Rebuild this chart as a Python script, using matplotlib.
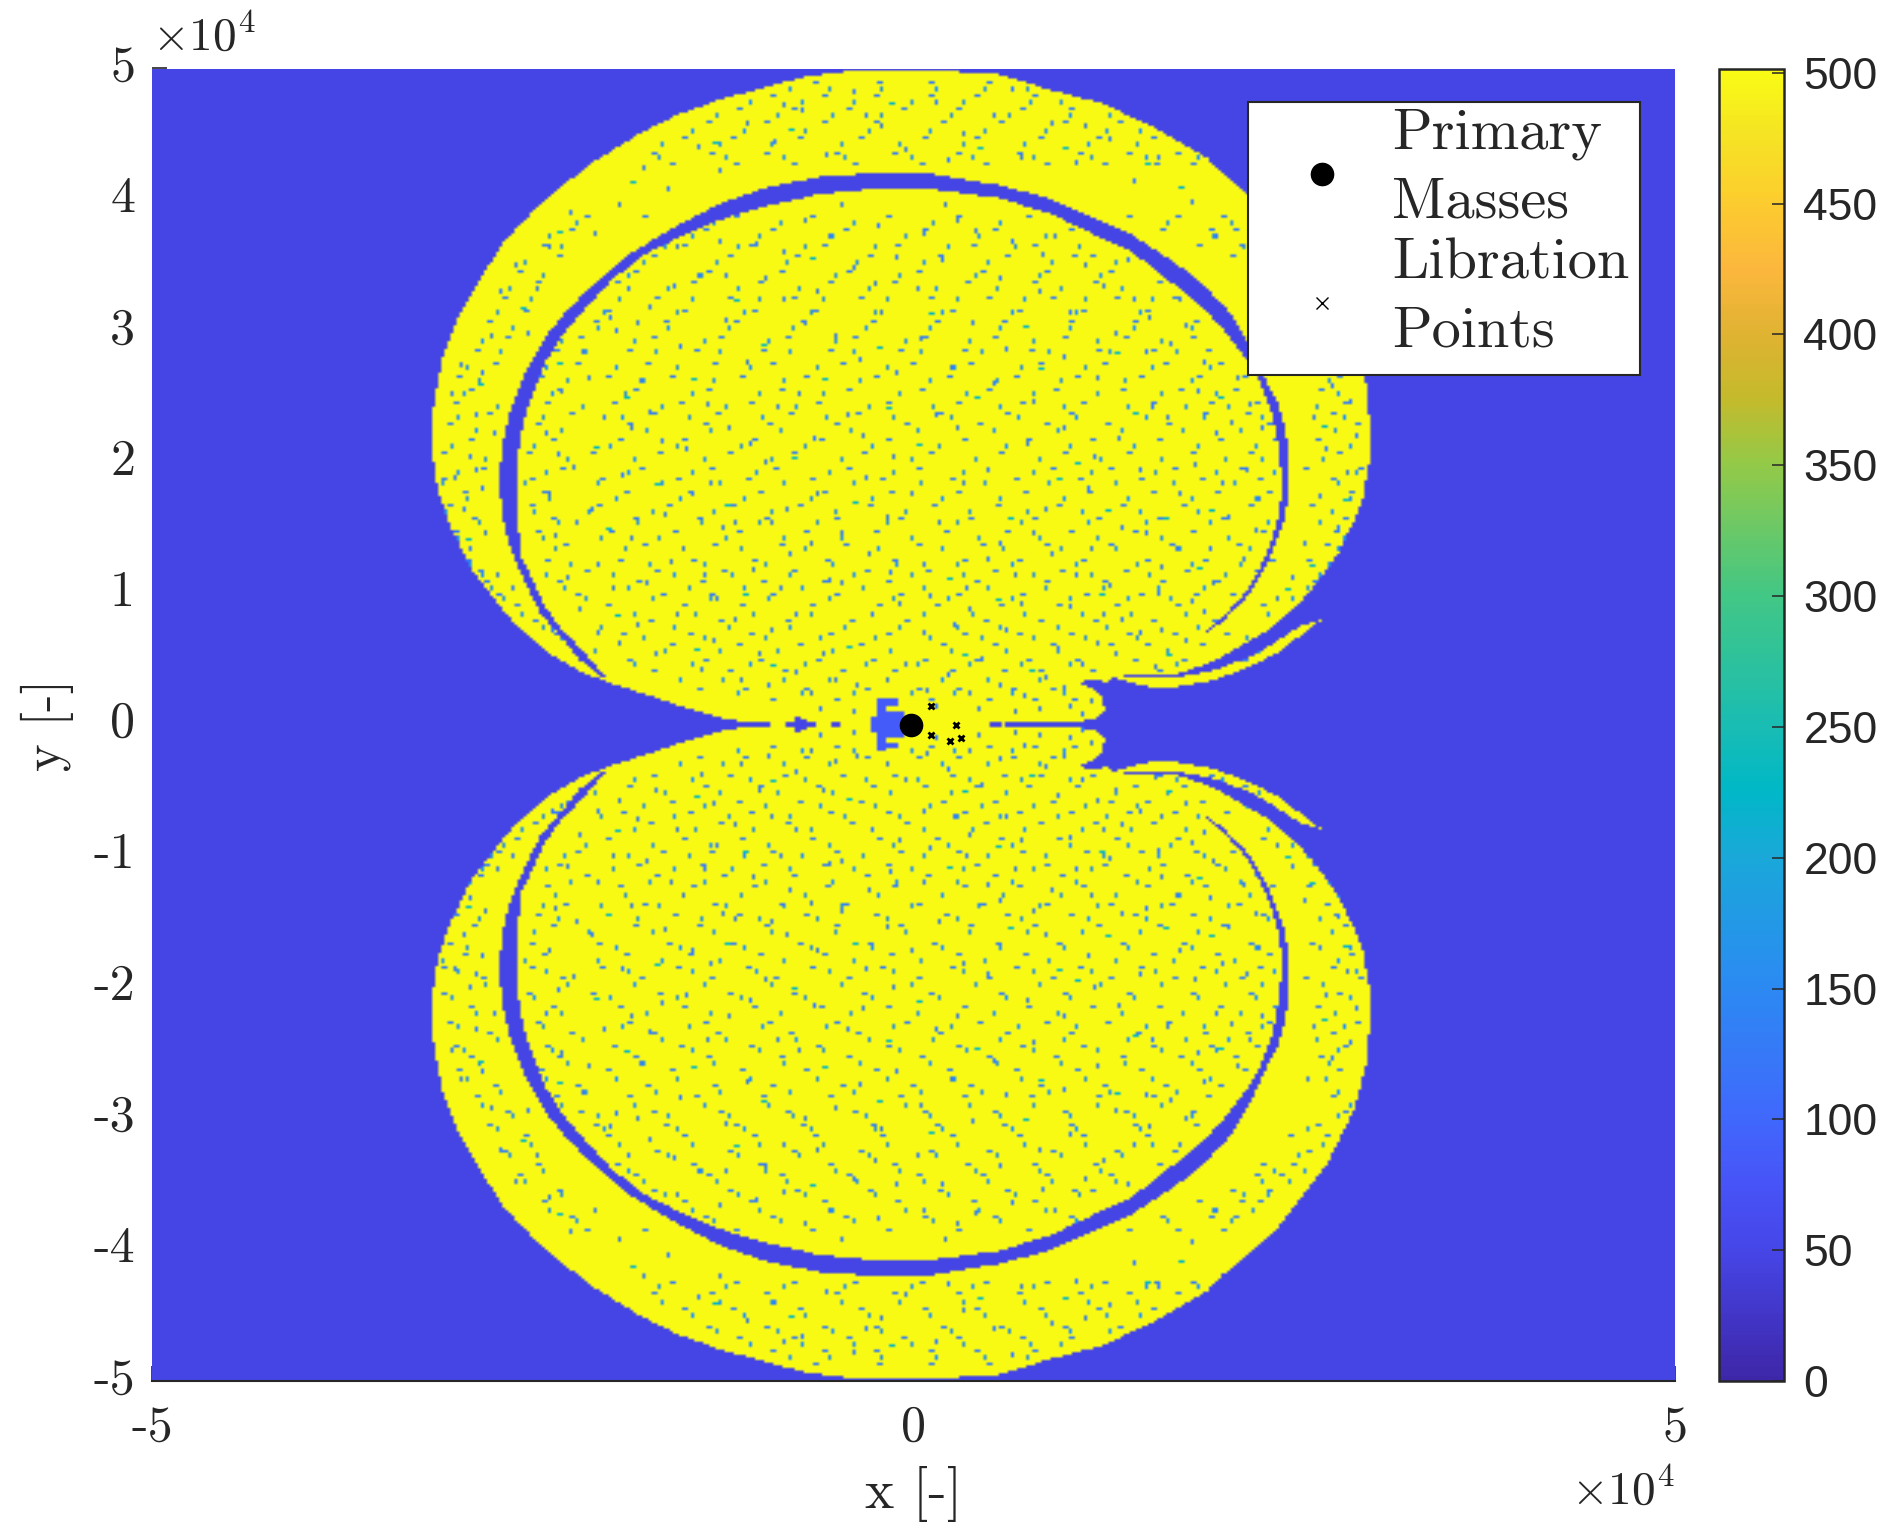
import numpy as np
import matplotlib
matplotlib.use('Agg')
import matplotlib.pyplot as plt
from matplotlib.path import Path
from matplotlib.patches import Rectangle
from matplotlib.colors import LinearSegmentedColormap
from matplotlib.transforms import ScaledTranslation

# everything below in units of 1e4
# outline of the upper lobe, lower lobe is its mirror image
upper_x = [-0.81, -1.09, -1.24, -1.49, -1.74, -1.98, -2.194, -2.395, -2.621, -2.772, -2.910, -3.048, -3.124, -3.161,
           -3.149, -3.086, -2.998, -2.847, -2.709, -2.571, -2.319, -2.093, -1.817, -1.566, -1.289, -0.987,
           -0.711, -0.359, 0.093, 0.566, 0.893, 1.221, 1.549, 1.921, 2.03, 2.184, 2.392, 2.709, 2.895, 2.97, 2.998, 2.998,
           2.950, 2.884, 2.786, 2.644, 2.490, 2.337, 2.162, 1.987, 1.812, 1.724, 1.374, 1.374, 1.724, 1.834,
           1.987, 2.206, 2.381, 2.534, 2.676, 2.556, 2.381, 2.206, 1.987, 1.768, 1.593, 1.462, 1.308, 1.276,
           1.155, 1.090, 1.177, 1.243, 1.254, 1.199, 1.046, 1.046]
upper_y = [0.0, 0.02, 0.043, 0.125, 0.224, 0.309, 0.408, 0.541, 0.772, 0.986, 1.201, 1.531, 1.796, 2.093,
           2.456, 2.819, 3.083, 3.381, 3.645, 3.827, 4.091, 4.289, 4.487, 4.636, 4.751, 4.850,
           4.933, 4.986, 4.986, 4.949, 4.834, 4.735, 4.570, 4.322, 4.19, 4.05, 3.83, 3.36, 2.93, 2.6, 2.258, 2.027,
           1.729, 1.531, 1.300, 1.069, 0.871, 0.722, 0.607, 0.491, 0.415, 0.382, 0.375, 0.362, 0.362, 0.379,
           0.418, 0.514, 0.630, 0.745, 0.795, 0.689, 0.541, 0.442, 0.342, 0.293, 0.276, 0.309, 0.359, 0.319,
           0.349, 0.319, 0.276, 0.210, 0.111, 0.045, 0.012, 0.0]

# blue crescent between the outer band and the inner lobe
gap_x = [-1.980, -2.194, -2.319, -2.445, -2.546, -2.646, -2.696, -2.722, -2.696, -2.646, -2.546, -2.395, -2.269,
         -2.068, -1.867, -1.616, -1.289, -0.962, -0.611, -0.234, 0.143, 0.566, 0.893, 1.221, 1.440, 1.659,
         1.878, 2.096, 2.195, 2.315, 2.392, 2.442, 2.464, 2.468, 2.436, 2.392, 2.337, 2.249, 2.162, 2.031,
         1.878, 2.020, 2.140, 2.217, 2.304, 2.348, 2.392, 2.420, 2.403, 2.348, 2.271, 2.184, 2.053, 1.878,
         1.659, 1.440, 1.221, 0.893, 0.564, 0.143, -0.234, -0.611, -0.987, -1.314, -1.566, -1.767, -1.968,
         -2.144, -2.294, -2.420, -2.521, -2.583, -2.608, -2.601, -2.571, -2.508, -2.420, -2.319, -2.169]
gap_y = [0.309, 0.491, 0.673, 0.838, 1.069, 1.333, 1.564, 1.862, 2.159, 2.390, 2.687, 2.984, 3.166,
         3.381, 3.579, 3.760, 3.959, 4.091, 4.173, 4.200, 4.190, 4.107, 4.008, 3.843, 3.727, 3.562,
         3.381, 3.117, 2.918, 2.621, 2.456, 2.258, 2.027, 1.763, 1.564, 1.432, 1.251, 1.069, 0.937, 0.788,
         0.656, 0.805, 0.954, 1.069, 1.267, 1.383, 1.564, 1.763, 2.093, 2.390, 2.621, 2.786, 2.984, 3.199,
         3.397, 3.595, 3.711, 3.893, 4.008, 4.074, 4.081, 4.041, 3.942, 3.827, 3.694, 3.579, 3.397,
         3.183, 2.984, 2.753, 2.456, 2.192, 1.862, 1.564, 1.267, 1.118, 0.904, 0.739, 0.557]

# thin blue slits along y=0: start, end, half height
slit_x0 = [-0.85, -0.78, -0.74, -0.545, 0.507, 0.597]
slit_x1 = [-0.65, -0.74, -0.70, -0.48, 0.572, 1.25]
slit_h = [0.02, 0.07, 0.04, 0.03, 0.03, 0.02]

# blue patch around the big mass
patch_x0 = [-0.29, -0.245, -0.18, -0.18, -0.245]
patch_x1 = [-0.07, -0.19, -0.09, -0.09, -0.07]
patch_y0 = [-0.05, -0.20, 0.14, -0.19, -0.09]
patch_y1 = [0.05, 0.20, 0.19, -0.14, 0.09]

# dots in the yellow, upper half only, the lower half repeats them mirrored
speckle_blue = [
    (-2.95, 1.62), (-2.81, 1.44), (-2.73, 1.13), (-2.92, 2.03), (-3.02, 1.87), (-2.88, 2.34), (-3.05, 2.51),
    (-2.97, 2.72), (-2.83, 2.66), (-2.78, 2.93), (-2.71, 3.27), (-2.62, 3.49), (-2.48, 3.31), (-2.39, 3.62),
    (-2.25, 3.88), (-2.11, 3.72), (-1.95, 3.94), (-1.78, 4.22), (-1.62, 4.06), (-1.43, 4.38), (-1.27, 4.21),
    (-1.11, 4.56), (-0.92, 4.42), (-0.74, 4.67), (-0.58, 4.33), (-0.41, 4.81), (-0.22, 4.54), (-0.07, 4.36),
    (0.13, 4.72), (0.31, 4.48), (0.52, 4.61), (0.71, 4.31), (0.89, 4.57), (1.06, 4.26), (1.27, 4.44), (1.43, 4.12),
    (1.61, 4.31), (1.82, 3.96), (1.97, 3.71), (0.22, 4.28), (-0.33, 4.62), (-0.87, 4.71), (0.63, 4.82), (1.12, 4.53),
    (-2.55, 2.96), (-2.87, 1.92), (-2.76, 2.21), (-2.83, 1.77), (-2.91, 1.33), (-2.64, 1.02), (-2.38, 0.69),
    (-2.23, 0.56), (2.62, 2.32), (2.71, 2.08), (2.84, 1.91), (2.66, 1.72), (2.78, 1.48), (2.56, 1.36), (2.49, 1.11),
    (2.38, 0.94), (2.86, 2.44), (2.74, 2.56), (2.58, 2.71), (2.91, 2.18),
    (-2.42, 2.21), (-2.31, 2.53), (-2.24, 1.94), (-2.18, 2.81), (-2.12, 1.62), (-2.05, 2.33), (-1.97, 2.97),
    (-1.92, 1.88), (-1.85, 1.41), (-1.79, 2.61), (-1.73, 3.17), (-1.66, 2.14), (-1.61, 1.22), (-1.54, 2.86),
    (-1.47, 1.73), (-1.42, 3.41), (-1.36, 2.42), (-1.29, 0.94), (-1.23, 3.06), (-1.18, 1.51), (-1.11, 2.73),
    (-1.05, 3.64), (-0.99, 1.97), (-0.93, 0.71), (-0.87, 3.22), (-0.82, 1.28), (-0.76, 2.51), (-0.71, 3.82),
    (-0.64, 1.74), (-0.59, 0.53), (-0.53, 2.93), (-0.47, 1.06), (-0.41, 3.47), (-0.35, 2.18), (-0.29, 0.82),
    (-0.24, 3.78), (-0.18, 1.57), (-0.12, 2.67), (-0.06, 0.44), (0.02, 3.31), (0.07, 1.21), (0.13, 2.34),
    (0.19, 3.93), (0.26, 0.73), (0.32, 1.83), (0.38, 3.04), (0.44, 0.48), (0.51, 2.58), (0.57, 1.36),
    (0.63, 3.66), (0.69, 0.91), (0.74, 2.12), (0.81, 3.27), (0.87, 1.62), (0.93, 0.56), (0.99, 2.79),
    (1.06, 1.13), (1.12, 3.48), (1.18, 2.03), (1.24, 0.82), (1.31, 2.96), (1.37, 1.47), (1.43, 3.23),
    (1.49, 0.67), (1.56, 2.41), (1.62, 1.18), (1.68, 2.88), (1.74, 1.74), (1.81, 0.92), (1.87, 2.52),
    (1.93, 1.33), (1.99, 2.21), (2.06, 1.57), (2.12, 2.63), (2.18, 1.92), (2.24, 1.46), (2.29, 2.24),
    (-2.36, 1.42), (-2.28, 1.11), (-2.19, 0.87), (-2.08, 0.68), (-1.94, 0.61), (-1.81, 0.74), (-1.69, 0.52),
    (-1.56, 0.83), (-1.41, 0.41), (-1.32, 0.62), (-1.14, 0.33), (-1.02, 0.51), (-0.96, 0.27), (-0.78, 0.38),
    (-0.68, 0.22), (-0.52, 0.31), (-0.38, 0.27), (-0.17, 0.33), (0.08, 0.24), (0.21, 0.37), (0.36, 0.21),
    (0.55, 0.29), (0.72, 0.19), (0.86, 0.34), (0.98, 0.26), (1.09, 0.43), (1.19, 0.61), (1.32, 0.51),
    (1.58, 0.42), (-0.62, 0.11), (-0.41, 0.08), (0.14, 0.12), (0.42, 0.09), (0.66, 0.08), (0.83, 0.11),
    (1.02, 0.12), (1.11, 0.07), (1.16, 0.16),
    (-2.27, 3.11), (-2.14, 2.62), (-2.01, 3.08), (-1.88, 3.31), (-1.74, 2.36), (-1.58, 3.32), (-1.51, 2.09),
    (-1.33, 1.83), (-1.27, 3.67), (-1.21, 2.24), (-1.06, 1.17), (-0.97, 3.38), (-0.91, 2.41), (-0.84, 1.63),
    (-0.73, 3.03), (-0.66, 2.17), (-0.55, 3.71), (-0.49, 1.44), (-0.37, 2.76), (-0.31, 1.27), (-0.21, 3.11),
    (-0.14, 2.02), (-0.03, 1.73), (0.04, 2.92), (0.11, 0.96), (0.17, 3.52), (0.28, 2.23), (0.34, 1.03),
    (0.41, 3.74), (0.47, 1.92), (0.59, 2.84), (0.66, 1.12), (0.78, 2.43), (0.84, 3.56), (0.91, 1.28),
    (0.97, 2.23), (1.03, 3.13), (1.14, 1.78), (1.21, 2.63), (1.28, 1.04), (1.34, 2.17), (1.41, 3.52),
    (1.47, 1.92), (1.53, 2.83), (1.59, 0.98), (1.66, 2.31), (1.72, 1.32), (1.79, 3.02), (1.84, 1.96),
    (1.91, 2.73), (1.96, 1.07), (2.03, 1.83), (2.09, 2.29), (2.16, 1.24), (2.21, 2.42), (2.26, 1.71),
    (-2.39, 1.73), (-2.33, 2.04), (-2.21, 1.53), (-2.09, 1.21), (-1.99, 1.03), (-1.86, 2.24), (-1.75, 1.06),
    (-1.64, 1.58), (-1.52, 1.31), (-1.39, 1.12), (-1.26, 1.47), (-1.17, 0.78), (-1.08, 2.12), (-0.95, 1.52),
    (-0.89, 1.03), (-0.78, 0.83), (-0.69, 1.37), (-0.57, 1.08), (-0.44, 2.34), (-0.32, 1.87), (-0.16, 1.14),
    (-0.09, 0.91), (0.05, 0.67), (0.16, 1.52), (0.24, 2.71), (0.37, 0.87), (0.49, 1.23), (0.61, 0.71),
    (0.77, 1.44), (1.01, 0.88), (1.16, 1.31), (1.36, 0.78), (1.52, 1.43), (1.63, 0.71), (1.77, 0.62), (1.89, 0.84),
    (-1.57, 3.61), (-1.24, 3.41), (-0.86, 3.58), (-0.48, 3.94), (-0.12, 3.53), (0.29, 3.82), (0.56, 3.38),
    (0.92, 3.71), (1.23, 3.33), (1.54, 3.08), (1.73, 3.21), (-1.81, 3.03), (-0.63, 3.27), (-0.27, 3.34), (0.07, 3.72),
]
speckle_teal = [
    (-2.86, 2.58), (-2.69, 1.58), (-2.94, 1.41), (-2.58, 3.17), (-2.33, 3.74), (-1.86, 4.13), (-1.31, 4.42),
    (-0.83, 4.52), (-0.16, 4.73), (0.42, 4.39), (0.98, 4.39), (1.51, 4.27), (1.74, 4.09), (2.68, 2.26), (2.81, 1.69),
    (2.61, 1.21), (2.44, 1.02), (-2.34, 2.73), (-2.11, 2.11), (-1.91, 2.49), (-1.69, 1.83), (-1.46, 2.62),
    (-1.23, 1.67), (-1.01, 2.88), (-0.81, 2.03), (-0.61, 2.62), (-0.39, 1.68), (-0.19, 2.41), (0.01, 2.13),
    (0.21, 1.11), (0.39, 2.47), (0.62, 1.57), (0.83, 2.71), (1.07, 1.97), (1.26, 1.62), (1.44, 2.37), (1.64, 1.56),
    (1.86, 1.18), (2.01, 2.47), (2.19, 1.03), (-1.96, 0.83), (-1.44, 0.57), (-0.93, 0.43), (-0.44, 0.58),
    (0.31, 0.53), (0.76, 0.39), (1.22, 0.98), (1.67, 0.53), (-1.17, 3.23), (-0.67, 3.53), (0.09, 3.12), (0.72, 3.02),
    (1.33, 2.81), (1.94, 1.63), (-2.02, 1.47), (-1.12, 0.97), (0.54, 0.94), (-0.24, 2.87), (0.94, 1.87),
]

# more dots as short dashes, one row per y value
dash_y = [0.17, 0.26, 0.39, 0.47, 0.59, 0.68, 0.77, 0.89, 0.97, 1.08, 1.16, 1.24, 1.37, 1.46, 1.55, 1.67, 1.76, 1.85,
          1.95, 2.06, 2.16, 2.27, 2.36, 2.45, 2.55, 2.64, 2.75, 2.84, 2.95, 3.06, 3.14, 3.25, 3.36, 3.44, 3.56, 3.65,
          3.76, 3.86, 4.27, 4.35, 4.46, 4.59, 4.68, 4.78, 4.88]
dash_x = [
    [-0.93, -0.51, -0.22, 0.11, 0.47, 0.78, 1.04],
    [-1.43, -1.12, -0.71, -0.33, 0.02, 0.29, 0.63, 0.91],
    [-1.72, -1.21, -0.86, -0.47, -0.13, 0.24, 0.58, 0.83, 1.16, 1.61, 1.93],
    [-1.88, -1.37, -1.03, -0.63, -0.28, 0.06, 0.41, 0.74, 1.07, 1.44, 1.76, 2.16],
    [-2.27, -1.61, -1.16, -0.77, -0.37, 0.17, 0.52, 0.89, 1.27, 1.53, 1.88],
    [-2.36, -1.92, -1.48, -1.09, -0.56, -0.18, 0.33, 0.67, 1.03, 1.41, 1.71, 2.04],
    [-2.51, -1.73, -1.27, -0.84, -0.42, -0.06, 0.46, 0.82, 1.18, 1.57, 1.96, 2.41],
    [-2.63, -2.03, -1.52, -1.14, -0.68, -0.24, 0.14, 0.56, 0.94, 1.33, 1.72, 2.28, 2.55],
    [-2.74, -2.21, -1.66, -1.33, -0.94, -0.52, -0.11, 0.27, 0.71, 1.12, 1.48, 1.84, 2.09],
    [-2.81, -2.34, -1.81, -1.41, -1.01, -0.61, -0.19, 0.39, 0.85, 1.24, 1.63, 1.98, 2.63],
    [-2.86, -2.16, -1.69, -1.26, -0.81, -0.33, 0.08, 0.51, 0.96, 1.38, 1.79, 2.23, 2.71],
    [-2.93, -2.42, -1.94, -1.46, -1.07, -0.58, -0.14, 0.31, 0.68, 1.09, 1.52, 1.91, 2.34, 2.58],
    [-2.99, -2.29, -1.77, -1.31, -0.89, -0.46, 0.03, 0.44, 0.87, 1.27, 1.68, 2.12, 2.69],
    [-3.03, -2.47, -2.01, -1.58, -1.16, -0.72, -0.27, 0.19, 0.61, 1.01, 1.44, 1.83, 2.27, 2.76],
    [-2.89, -2.38, -1.84, -1.42, -0.98, -0.53, -0.09, 0.36, 0.79, 1.19, 1.59, 2.03, 2.82],
    [-3.07, -2.53, -2.09, -1.63, -1.19, -0.76, -0.31, 0.12, 0.54, 0.93, 1.36, 1.76, 2.19, 2.61],
    [-2.96, -2.44, -1.91, -1.49, -1.03, -0.59, -0.16, 0.28, 0.72, 1.14, 1.56, 1.97, 2.33, 2.87],
    [-3.09, -2.52, -2.06, -1.56, -1.11, -0.67, -0.22, 0.23, 0.65, 1.08, 1.49, 1.88, 2.26, 2.73],
    [-2.84, -2.31, -1.79, -1.34, -0.92, -0.43, 0.01, 0.47, 0.89, 1.29, 1.71, 2.14, 2.57, 2.92],
    [-3.11, -2.54, -2.12, -1.68, -1.22, -0.79, -0.35, 0.09, 0.56, 0.98, 1.39, 1.81, 2.21, 2.79],
    [-2.92, -2.37, -1.95, -1.52, -1.06, -0.62, -0.17, 0.33, 0.75, 1.17, 1.61, 2.01, 2.36, 2.64],
    [-3.06, -2.48, -1.87, -1.39, -0.96, -0.51, -0.06, 0.42, 0.86, 1.26, 1.66, 2.09, 2.31, 2.89],
    [-2.79, -2.25, -1.71, -1.29, -0.83, -0.38, 0.16, 0.59, 1.03, 1.46, 1.89, 2.18, 2.75],
    [-3.03, -2.41, -1.98, -1.54, -1.09, -0.64, -0.19, 0.27, 0.69, 1.11, 1.55, 1.94, 2.24, 2.83],
    [-2.91, -2.33, -1.83, -1.36, -0.88, -0.44, 0.04, 0.49, 0.92, 1.35, 1.74, 2.11, 2.67],
    [-2.99, -2.46, -2.03, -1.61, -1.14, -0.71, -0.26, 0.21, 0.66, 1.05, 1.47, 1.86, 2.16, 2.79],
    [-2.76, -2.22, -1.76, -1.31, -0.93, -0.47, -0.02, 0.37, 0.82, 1.24, 1.65, 2.01],
    [-2.88, -2.36, -1.89, -1.44, -1.01, -0.55, -0.11, 0.31, 0.76, 1.19, 1.57, 1.92, 2.73],
    [-2.68, -2.19, -1.72, -1.27, -0.84, -0.39, 0.06, 0.52, 0.97, 1.38, 1.81, 2.81],
    [-2.79, -2.11, -1.64, -1.18, -0.74, -0.29, 0.13, 0.58, 1.01, 1.43, 1.84, 2.64],
    [-2.57, -2.02, -1.53, -1.07, -0.66, -0.23, 0.24, 0.68, 1.09, 1.51, 2.46, 2.71],
    [-2.69, -2.14, -1.69, -1.22, -0.81, -0.36, 0.09, 0.48, 0.91, 1.32, 1.71, 2.58],
    [-2.48, -1.96, -1.47, -1.02, -0.57, -0.14, 0.34, 0.77, 1.18, 1.61, 2.27, 2.49],
    [-2.61, -1.83, -1.36, -0.89, -0.43, 0.02, 0.44, 0.86, 1.27, 2.23, 2.41],
    [-2.34, -1.71, -1.21, -0.78, -0.31, 0.16, 0.61, 1.04, 1.16, 2.08, 2.31],
    [-2.43, -1.52, -1.08, -0.59, -0.12, 0.38, 0.79, 1.87, 2.14, 2.26],
    [-2.26, -1.39, -0.94, -0.46, 0.07, 0.51, 1.03, 1.62, 1.93, 2.11],
    [-2.17, -1.78, -1.18, -0.68, -0.19, 0.27, 0.74, 1.41, 1.72, 2.03],
    [-1.61, -1.17, -0.81, -0.41, 0.04, 0.46, 0.86, 1.23, 1.58, 1.83],
    [-1.72, -1.33, -0.99, -0.53, -0.14, 0.27, 0.67, 1.08, 1.39, 1.72],
    [-1.53, -1.19, -0.76, -0.36, 0.06, 0.41, 0.83, 1.21, 1.57],
    [-1.36, -0.97, -0.59, -0.26, 0.18, 0.57, 0.97, 1.34],
    [-1.16, -0.79, -0.44, -0.08, 0.28, 0.71, 1.02],
    [-0.93, -0.61, -0.27, 0.09, 0.39, 0.78],
    [-0.66, -0.24, 0.11, 0.48],
]

# second set of rows, vertical dashes in a lighter blue
tick_y = [0.21, 0.33, 0.43, 0.54, 0.63, 0.72, 0.83, 0.93, 1.03, 1.12, 1.21, 1.31, 1.41, 1.51, 1.61, 1.71, 1.81, 1.91,
          2.01, 2.11, 2.22, 2.32, 2.41, 2.51, 2.61, 2.71, 2.81, 2.91, 3.01, 3.11, 3.21, 3.31, 3.41, 3.51, 3.61, 3.71,
          3.81, 4.31, 4.41, 4.51, 4.63, 4.73, 4.83]
tick_x = [
    [-1.16, -0.74, -0.41, -0.03, 0.26, 0.64, 0.97],
    [-1.54, -1.26, -0.87, -0.56, -0.19, 0.18, 0.49, 0.81, 1.13],
    [-1.83, -1.47, -1.09, -0.73, -0.32, 0.01, 0.37, 0.69, 1.02, 1.72, 2.02],
    [-2.11, -1.64, -1.28, -0.91, -0.54, -0.16, 0.23, 0.61, 0.94, 1.31, 1.67, 2.26],
    [-2.32, -1.78, -1.39, -0.99, -0.62, -0.27, 0.09, 0.44, 0.79, 1.12, 1.46, 2.18],
    [-2.44, -2.06, -1.59, -1.21, -0.82, -0.46, -0.09, 0.28, 0.56, 0.93, 1.26, 1.62, 1.87],
    [-2.58, -1.84, -1.44, -1.06, -0.67, -0.29, 0.07, 0.38, 0.72, 1.09, 1.42, 1.79, 2.33],
    [-2.69, -2.16, -1.71, -1.33, -0.96, -0.57, -0.13, 0.21, 0.63, 1.01, 1.39, 1.68, 2.47],
    [-2.77, -2.29, -1.87, -1.48, -1.12, -0.74, -0.34, 0.06, 0.48, 0.86, 1.23, 1.59, 1.91, 2.58],
    [-2.84, -2.42, -1.98, -1.59, -1.19, -0.83, -0.41, -0.03, 0.33, 0.77, 1.17, 1.54, 2.04, 2.66],
    [-2.91, -2.26, -1.74, -1.37, -0.97, -0.54, -0.12, 0.29, 0.64, 1.06, 1.46, 1.83, 2.14, 2.72],
    [-2.97, -2.36, -1.91, -1.52, -1.14, -0.71, -0.24, 0.17, 0.58, 0.96, 1.33, 1.74, 2.21, 2.79],
    [-3.01, -2.43, -2.06, -1.67, -1.24, -0.87, -0.48, -0.01, 0.42, 0.81, 1.21, 1.62, 2.07, 2.83],
    [-2.86, -2.34, -1.82, -1.41, -1.02, -0.63, -0.18, 0.27, 0.69, 1.14, 1.52, 1.93, 2.31, 2.67],
    [-3.08, -2.49, -2.14, -1.71, -1.31, -0.93, -0.51, -0.06, 0.36, 0.74, 1.09, 1.47, 1.87, 2.74],
    [-2.94, -2.39, -1.96, -1.54, -1.13, -0.69, -0.28, 0.18, 0.57, 0.99, 1.41, 1.81, 2.24, 2.86],
    [-3.11, -2.56, -2.08, -1.66, -1.27, -0.86, -0.39, 0.04, 0.46, 0.88, 1.31, 1.69, 2.11, 2.79],
    [-2.99, -2.41, -1.89, -1.47, -1.04, -0.57, -0.13, 0.31, 0.77, 1.16, 1.58, 1.99, 2.37, 2.91],
    [-2.82, -2.28, -1.83, -1.37, -0.94, -0.48, -0.02, 0.39, 0.82, 1.22, 1.63, 2.04, 2.29, 2.68],
    [-3.04, -2.49, -2.01, -1.57, -1.14, -0.72, -0.28, 0.16, 0.61, 1.03, 1.44, 1.86, 2.24, 2.87],
    [-2.88, -2.32, -1.76, -1.33, -0.89, -0.42, 0.03, 0.53, 0.94, 1.36, 1.76, 2.14, 2.76],
    [-3.01, -2.44, -1.93, -1.49, -1.01, -0.58, -0.14, 0.24, 0.68, 1.07, 1.51, 1.91, 2.27, 2.82],
    [-2.74, -2.18, -1.66, -1.24, -0.78, -0.31, 0.12, 0.57, 0.99, 1.41, 1.79, 2.07, 2.64],
    [-2.96, -2.37, -1.91, -1.46, -1.03, -0.59, -0.11, 0.34, 0.78, 1.19, 1.63, 1.99, 2.78],
    [-2.86, -2.28, -1.77, -1.32, -0.86, -0.36, 0.09, 0.54, 0.96, 1.38, 1.82, 2.72],
    [-2.94, -2.41, -1.96, -1.56, -1.08, -0.64, -0.19, 0.26, 0.71, 1.13, 1.56, 1.94, 2.69],
    [-2.71, -2.16, -1.69, -1.27, -0.82, -0.41, 0.04, 0.44, 0.88, 1.29, 1.72, 2.79],
    [-2.83, -2.31, -1.84, -1.38, -0.96, -0.52, -0.06, 0.37, 0.79, 1.21, 1.62, 2.86],
    [-2.64, -2.09, -1.63, -1.21, -0.79, -0.33, 0.11, 0.57, 1.02, 1.44, 1.83, 2.77],
    [-2.74, -2.04, -1.57, -1.13, -0.69, -0.26, 0.18, 0.63, 1.06, 1.48, 2.59],
    [-2.52, -1.94, -1.46, -1.02, -0.61, -0.18, 0.28, 0.72, 1.13, 1.56, 2.68],
    [-2.66, -2.08, -1.62, -1.16, -0.76, -0.31, 0.13, 0.54, 0.96, 1.37, 2.53],
    [-2.43, -1.89, -1.41, -0.97, -0.52, -0.09, 0.39, 0.81, 1.22, 2.36, 2.57],
    [-2.57, -1.77, -1.29, -0.84, -0.38, 0.07, 0.49, 0.91, 1.31, 2.28, 2.46],
    [-2.31, -1.64, -1.16, -0.73, -0.26, 0.21, 0.66, 1.08, 2.17, 2.33],
    [-2.39, -1.47, -1.02, -0.54, -0.07, 0.42, 0.86, 1.96, 2.22],
    [-2.22, -1.31, -0.89, -0.41, 0.12, 0.56, 1.07, 1.67, 2.08],
    [-1.67, -1.24, -0.86, -0.46, -0.02, 0.38, 0.79, 1.16, 1.52, 1.86],
    [-1.66, -1.27, -0.93, -0.48, -0.09, 0.32, 0.72, 1.14, 1.46],
    [-1.47, -1.12, -0.71, -0.31, 0.11, 0.46, 0.87, 1.26, 1.47],
    [-1.29, -0.91, -0.54, -0.21, 0.23, 0.62, 1.03, 1.28],
    [-1.08, -0.74, -0.39, -0.03, 0.33, 0.76, 0.96],
    [-0.82, -0.56, -0.21, 0.14, 0.46, 0.73],
]

primary_x = [-150]
primary_y = [0]
libration_x = [1160, 1160, 2800, 2360, 3100]
libration_y = [1400, -760, 0, -1200, -1000]

xtick_vals = [-5e4, 0, 5e4]
xtick_text = ['-5', '0', '5']
ytick_vals = [-5e4, -4e4, -3e4, -2e4, -1e4, 0, 1e4, 2e4, 3e4, 4e4, 5e4]
ytick_text = ['-5', '-4', '-3', '-2', '-1', '0', '1', '2', '3', '4', '5']
cbar_ticks = [0, 50, 100, 150, 200, 250, 300, 350, 400, 450, 500]

back_val = 50
lobe_val = 500
patch_val = 85
blue_val = 130
light_val = 165
teal_val = 225

parula = LinearSegmentedColormap.from_list('parula', [
    (0.0, (0.2422, 0.1504, 0.6603)), (0.1, (0.275, 0.275, 0.91)), (0.15, (0.28, 0.33, 0.97)),
    (0.2, (0.25, 0.41, 0.99)), (0.3, (0.17, 0.54, 0.95)), (0.4, (0.10, 0.66, 0.85)),
    (0.45, (0.0, 0.72, 0.78)), (0.5, (0.10, 0.74, 0.70)), (0.6, (0.26, 0.78, 0.52)),
    (0.7, (0.58, 0.79, 0.28)), (0.75, (0.77, 0.73, 0.17)), (0.8, (0.88, 0.70, 0.20)),
    (0.85, (0.99, 0.72, 0.24)), (0.9, (0.99, 0.80, 0.18)), (0.95, (0.96, 0.89, 0.14)),
    (1.0, (0.9769, 0.9839, 0.0805))], N=256)

n = 500
gx = np.linspace(-4.99, 4.99, n)
gy = np.linspace(-4.99, 4.99, n)
xx, yy = np.meshgrid(gx, gy)
pts = np.column_stack([xx.ravel(), yy.ravel()])

def inside(x, y):
    return Path(np.column_stack([x, y])).contains_points(pts).reshape(n, n)

def put_speckles(Z, dots, val, di, dj):
    # both halves, only on yellow cells, two cells long
    for x, y in dots:
        i = np.searchsorted(gx, x)
        for j in [np.searchsorted(gy, y), np.searchsorted(gy, -y)]:
            if Z[j, i] == lobe_val:
                Z[j, i] = val
                if Z[j + dj, i + di] == lobe_val:
                    Z[j + dj, i + di] = val

ux = np.array(upper_x)
uy = np.array(upper_y)
Z = np.full((n, n), float(back_val))
Z[inside(ux, uy) | inside(ux, -uy)] = lobe_val
Z[inside(gap_x, gap_y) | inside(gap_x, -np.array(gap_y))] = back_val
for a, b, h in zip(slit_x0, slit_x1, slit_h):
    Z[(xx >= a) & (xx <= b) & (np.abs(yy) <= h)] = back_val
for a, b, c, d in zip(patch_x0, patch_x1, patch_y0, patch_y1):
    Z[(xx >= a) & (xx <= b) & (yy >= c) & (yy <= d)] = patch_val
put_speckles(Z, speckle_blue, blue_val, 0, 1)
put_speckles(Z, speckle_teal, teal_val, 1, 0)
for y, row in zip(dash_y, dash_x):
    put_speckles(Z, [(x, y) for x in row], blue_val, 1, 0)
for y, row in zip(tick_y, tick_x):
    put_speckles(Z, [(x, y) for x in row], light_val, 0, 1)

plt.rcParams['font.family'] = 'cmr10'
plt.rcParams['mathtext.fontset'] = 'cm'
plt.rcParams['axes.unicode_minus'] = False

W, H = 1890, 1538
fig = plt.figure(figsize=(W / 100, H / 100), dpi=100)
ax = fig.add_axes([152.5 / W, 1 - 1381 / H, 1522.5 / W, 1312.5 / H])
im = ax.imshow(Z, origin='lower', extent=[-5e4, 5e4, -5e4, 5e4], cmap=parula, vmin=0, vmax=501.6,
               aspect='auto', interpolation='bilinear', interpolation_stage='rgba', zorder=1)

l1, = ax.plot(primary_x, primary_y, 'o', color='k', ms=16, label='Primary\nMasses', zorder=3)
l2, = ax.plot(libration_x, libration_y, 'x', color='k', ms=4, mew=2, label='Libration\nPoints', zorder=3)

ax.set_axisbelow(True)
ax.set_xlim(-5e4, 5e4)
ax.set_ylim(-5e4, 5e4)
ax.set_xticks(xtick_vals)
ax.set_xticklabels(xtick_text)
ax.set_yticks(ytick_vals)
ax.set_yticklabels(ytick_text)
ax.tick_params(direction='in', length=11, width=1.2, color='#262626', labelcolor='#262626', labelsize=36)
ax.tick_params(axis='x', pad=17)
ax.tick_params(axis='y', pad=12.5)
up = ScaledTranslation(0, 4 / 72, fig.dpi_scale_trans)
for t in ax.get_yticklabels():
    t.set_transform(t.get_transform() + up)
for s in ['top', 'right', 'left']:
    ax.spines[s].set_visible(False)
ax.spines['bottom'].set_color('#262626')
ax.spines['bottom'].set_linewidth(1.5)
ax.set_xlabel('x [-]', fontsize=40, color='#262626', labelpad=11)
ax.set_ylabel('y [-]', fontsize=38, color='#262626', labelpad=14)

ax.text(0.0, 1.007, r'$\times 10^{4}$', transform=ax.transAxes, fontsize=34, color='#262626', ha='left', va='bottom')
ax.text(1.0, -0.066, r'$\times 10^{4}$', transform=ax.transAxes, fontsize=34, color='#262626', ha='right', va='top')

# box drawn by hand, the legend frame cannot have different paddings per side
ax.add_patch(Rectangle((1248 / W, 1 - 375 / H), 392 / W, 273 / H, transform=fig.transFigure, facecolor='white',
                       edgecolor='#262626', linewidth=1.5, zorder=4))
leg = ax.legend(handles=[l1, l2], loc='upper left', bbox_to_anchor=((1248 - 152.5) / 1522.5, 1 - (102 - 68.5) / 1312.5),
                borderaxespad=0, fontsize=42, frameon=False, borderpad=0.12,
                handlelength=2.3, handletextpad=0.05, labelspacing=0.16, markerscale=1)
leg.set_zorder(5)
leg.legend_handles[1].set_markersize(9)
leg.legend_handles[1].set_markeredgewidth(1)
for h in leg.legend_handles:
    h.set_ydata(np.array(h.get_ydata()) - 3.6)
for t in leg.get_texts():
    t.set_linespacing(1.43)
    t.set_color('#262626')

cax = fig.add_axes([1719 / W, 1 - 1381 / H, 65 / W, 1312.5 / H])
cb = fig.colorbar(im, cax=cax, ticks=cbar_ticks)
cb.outline.set_linewidth(1.8)
cb.outline.set_edgecolor('#262626')
cax.tick_params(direction='in', length=8.5, width=1.1, color='#262626', pad=14)
for t in cax.get_yticklabels():
    t.set_family('Liberation Sans')
    t.set_fontsize(32)
    t.set_color('#262626')

fig.savefig('out.png', dpi=100)
